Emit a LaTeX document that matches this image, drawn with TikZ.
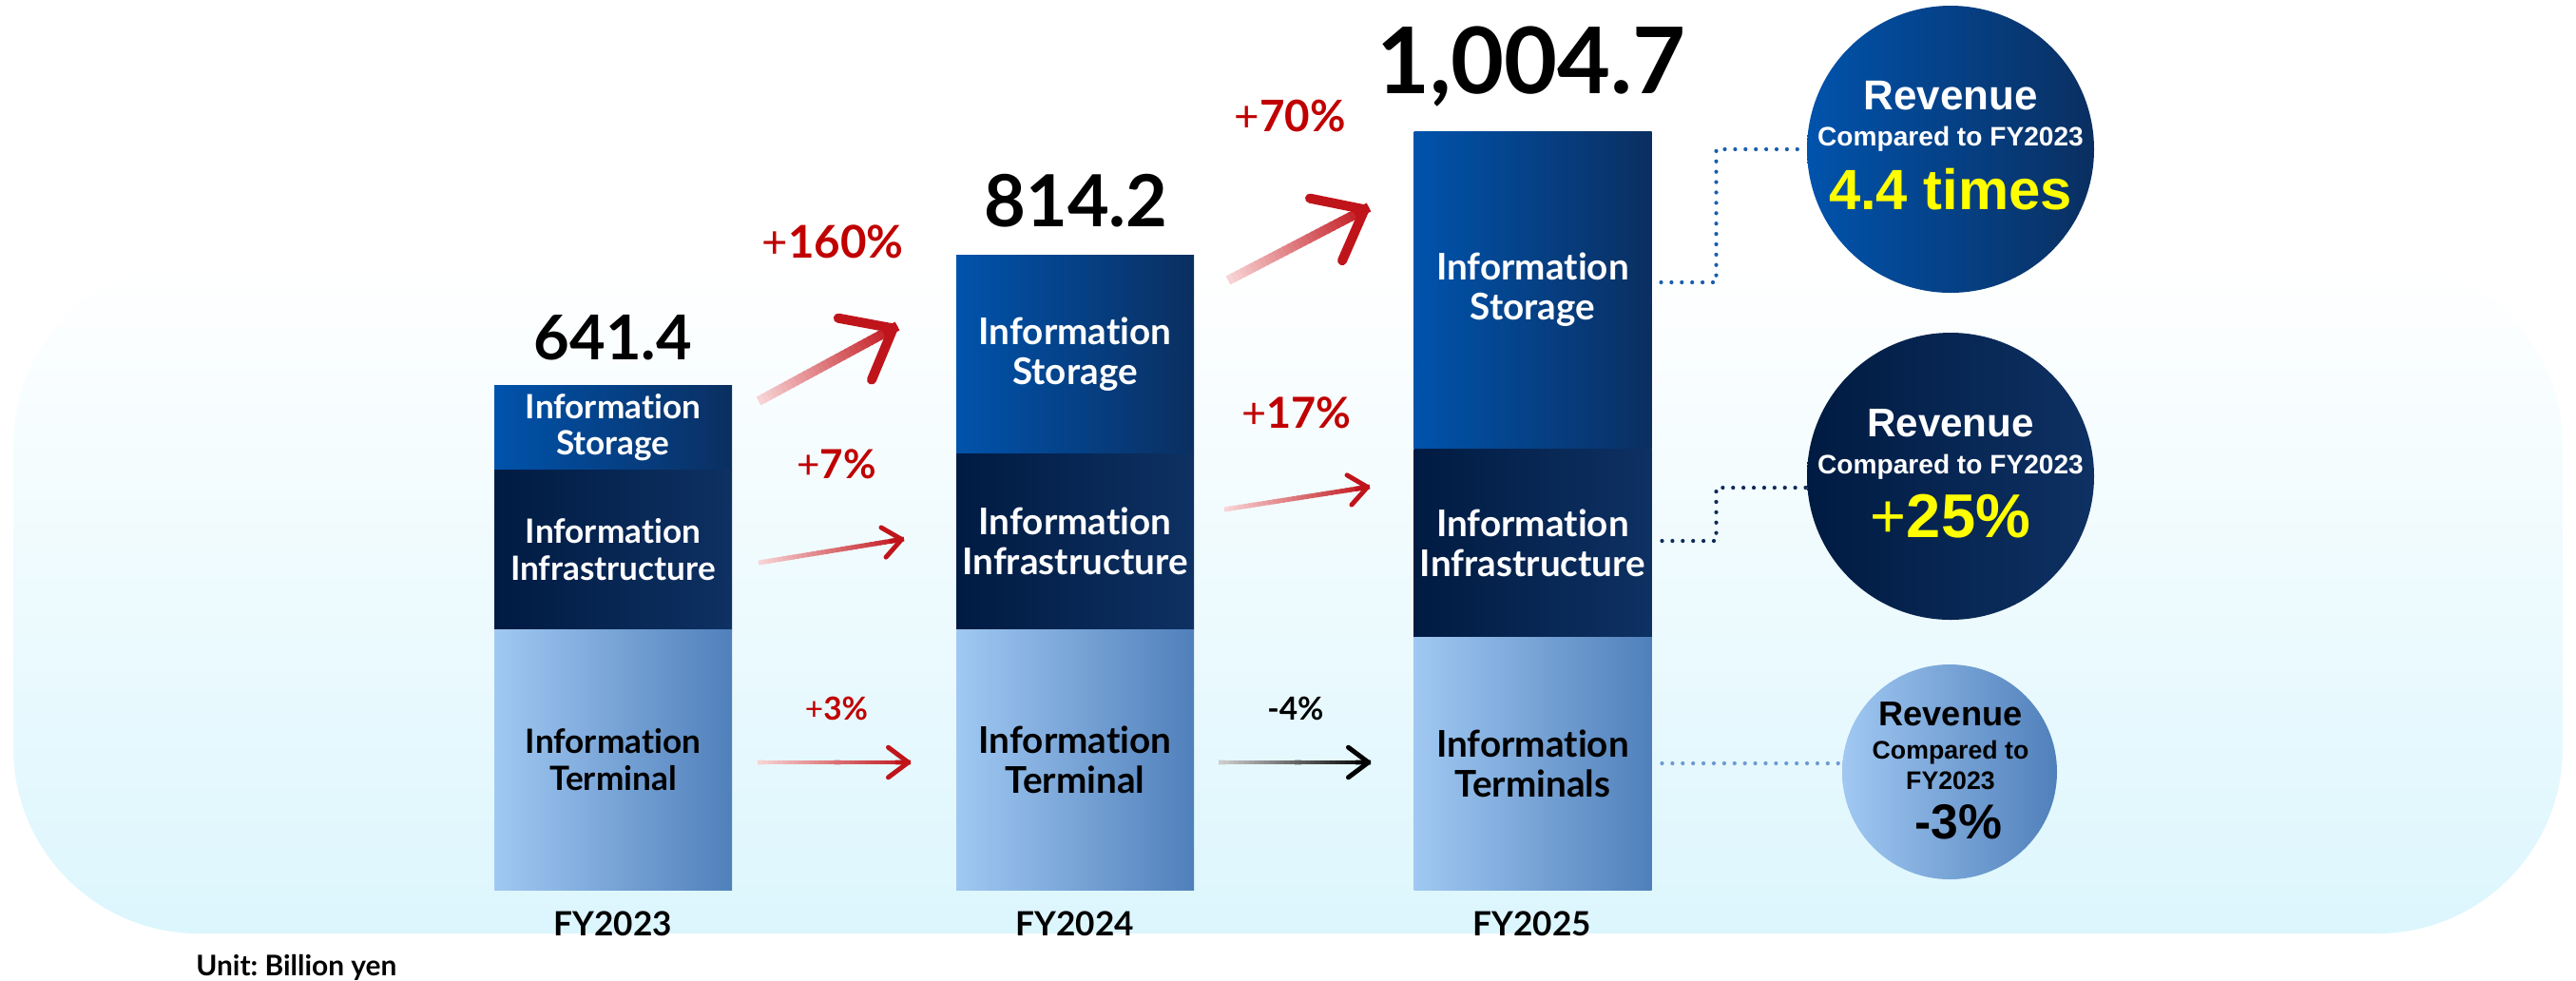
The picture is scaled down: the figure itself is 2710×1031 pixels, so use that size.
\documentclass[tikz,border=0pt]{standalone}
\usepackage{fontspec}
\setmainfont{Lato}[Ligatures=NoCommon]
\newfontfamily\circfont{Liberation Sans}
\usetikzlibrary{positioning,calc,arrows.meta,fadings}

% segment colours (left / middle / right of each gradient)
\definecolor{stgL}{HTML}{0053AC}
\definecolor{stgM}{HTML}{03489A}
\definecolor{stgR}{HTML}{0A2F61}
\definecolor{infL}{HTML}{001B42}
\definecolor{infM}{HTML}{012C5C}
\definecolor{infR}{HTML}{0E3163}
\definecolor{trmL}{HTML}{A0C8F2}
\definecolor{trmM}{HTML}{86AFE1}
\definecolor{trmR}{HTML}{5080BB}
% backdrop and accents
\definecolor{bgmid}{HTML}{ECF8FE}
\definecolor{bgcyan}{HTML}{DCF6FD}
\definecolor{floorcol}{HTML}{C4DFE6}
\definecolor{pctred}{HTML}{C00000}
\definecolor{headred}{HTML}{C0141B}
\definecolor{tailpink}{HTML}{FADADB}
\definecolor{tailgrey}{HTML}{D4D4D4}
\definecolor{dotA}{HTML}{1A5DAE}
\definecolor{dotB}{HTML}{0F2B57}
\definecolor{dotC}{HTML}{6C9BD2}
\definecolor{hiyellow}{HTML}{FFFF00}

\tikzfading[name=floorfade, left color=transparent!100, middle color=transparent!0, right color=transparent!100]

% arrow with a shaft that runs from a pale tail to a strong head
% #1 from, #2 to, #3 width, #4 tail colour, #5 head colour, #6 tip size
\newcommand{\gradarrow}[6]{%
  \foreach \k in {1,...,30}{
    \pgfmathsetmacro{\ta}{(\k-1)/30}
    \pgfmathsetmacro{\tb}{min(1,\k/30+0.01)}
    \pgfmathsetmacro{\mx}{100*\k/30}
    \draw[line width=#3, color=#5!\mx!#4] ($(#1)!\ta!(#2)$) -- ($(#1)!\tb!(#2)$);
  }
  \draw[line width=#3, color=#5, -{Straight Barb[round, #6]}] ($(#1)!0.9!(#2)$) -- (#2);
}

\begin{document}
\begin{tikzpicture}[x=0.1mm, y=-0.1mm,
    seg/.style={rectangle, inner sep=0pt, outer sep=0pt, minimum width=25mm, align=center},
    stgseg/.style={seg, left color=stgL, middle color=stgM, right color=stgR, text=white},
    infseg/.style={seg, left color=infL, middle color=infM, right color=infR, text=white},
    trmseg/.style={seg, left color=trmL, middle color=trmM, right color=trmR, text=black},
    segsmall/.style={font=\fontsize{10}{11}\selectfont\bfseries},
    seglarge/.style={font=\fontsize{11}{12}\selectfont\bfseries},
    total/.style={anchor=base},
    pct/.style={anchor=base, text=pctred},
    year/.style={anchor=base, font=\fontsize{10}{12}\selectfont\bfseries},
    bubble/.style={circle, inner sep=0pt, outer sep=0pt},
    rvtxt/.style={anchor=base},
    dotline/.style={line width=1.2pt, line cap=round, dash pattern=on 0pt off 3.1pt},
  ]

  \useasboundingbox (0,0) rectangle (2710,1031);

  % backdrop
  \shade[top color=white, middle color=bgmid, bottom color=bgcyan, rounded corners=19.5mm]
    (14,273) rectangle (2696,982);
  % floor shadow under the bars
  \shade[top color=bgcyan, bottom color=floorcol, path fading=floorfade]
    (270,895) rectangle (2150,937);

  % FY2023 bar
  \node[stgseg, segsmall, minimum height=8.9mm] (st1) at (645,449.5) {Information\\Storage};
  \node[infseg, segsmall, minimum height=16.8mm, below=0pt of st1] (in1) {Information\\Infrastructure};
  \node[trmseg, segsmall, minimum height=27.4mm, below=0pt of in1] (te1) {Information\\Terminal};

  % FY2024 bar
  \node[stgseg, seglarge, minimum height=20.9mm] (st2) at (1131,372.5) {Information\\Storage};
  \node[infseg, seglarge, minimum height=18.5mm, below=0pt of st2] (in2) {Information\\Infrastructure};
  \node[trmseg, seglarge, minimum height=27.4mm, below=0pt of in2] (te2) {Information\\Terminal};

  % FY2025 bar
  \node[stgseg, seglarge, minimum height=33.4mm] (st3) at (1612.5,305) {Information\\Storage};
  \node[infseg, seglarge, minimum height=19.8mm, below=0pt of st3] (in3) {Information\\Infrastructure};
  \node[trmseg, seglarge, minimum height=26.6mm, below=0pt of in3] (te3) {Information\\Terminals};

  % totals
  \node[total, font=\fontsize{18.5}{20}\selectfont\bfseries] (tot1) at (645,378) {641.4};
  \node[total, font=\fontsize{21.5}{24}\selectfont\bfseries] (tot2) at (1132,238) {814.2};
  \node[total, font=\fontsize{27.5}{30}\selectfont\bfseries] (tot3) at (1611,98) {1,004.7};

  % years and unit
  \node[year] (fy1) at (645,984) {FY2023};
  \node[year] (fy2) at (1131,984) {FY2024};
  \node[year] (fy3) at (1612,984) {FY2025};
  \node[anchor=base west, font=\fontsize{8.5}{10}\selectfont\bfseries] (unit) at (194,1026) {Unit:\ Billion yen};

  % growth arrows
  \coordinate (g1s) at (798,422);  \coordinate (g1e) at (944,343);
  \coordinate (g2s) at (798,592);  \coordinate (g2e) at (951,567);
  \coordinate (g3s) at (797,802);  \coordinate (g3e) at (958,802);
  \coordinate (g4s) at (1292,295); \coordinate (g4e) at (1440,218);
  \coordinate (g5s) at (1288,536); \coordinate (g5e) at (1441,512);
  \coordinate (g6s) at (1282,802); \coordinate (g6e) at (1442,802);

  \gradarrow{g1s}{g1e}{2.85pt}{tailpink}{headred}{length=13pt, width=21pt}
  \gradarrow{g2s}{g2e}{1.4pt}{tailpink}{headred}{length=5.5pt, width=9pt}
  \gradarrow{g3s}{g3e}{1.4pt}{tailpink}{headred}{length=6pt, width=9pt}
  \gradarrow{g4s}{g4e}{2.85pt}{tailpink}{headred}{length=13pt, width=21pt}
  \gradarrow{g5s}{g5e}{1.4pt}{tailpink}{headred}{length=5.5pt, width=9pt}
  \gradarrow{g6s}{g6e}{1.4pt}{tailgrey}{black}{length=6pt, width=9pt}

  % growth rates
  \node[pct, font=\fontsize{13.5}{15}\selectfont\bfseries] (p160) at (876,271) {{\mdseries+}160\%};
  \node[pct, font=\fontsize{12}{14}\selectfont\bfseries] (p7) at (880,503) {{\mdseries+}7\%};
  \node[pct, font=\fontsize{9.5}{11}\selectfont\bfseries] (p3) at (880,757) {{\mdseries+}3\%};
  \node[pct, font=\fontsize{13}{15}\selectfont\bfseries] (p70) at (1357,138) {{\mdseries+}70\%};
  \node[pct, font=\fontsize{12.8}{15}\selectfont\bfseries] (p17) at (1364,450) {{\mdseries+}17\%};
  \node[pct, text=black, font=\fontsize{9.5}{11}\selectfont\bfseries] (m4) at (1363,757) {-4\%};

  % revenue bubbles
  \node[bubble, minimum size=30.2mm, left color=stgL, middle color=stgM, right color=stgR] (rv1) at (2052,157) {};
  \node[bubble, minimum size=30.2mm, left color=infL, middle color=infM, right color=infR] (rv2) at (2052,501) {};
  \node[bubble, minimum size=22.6mm, left color=trmL, middle color=trmM, right color=trmR] (rv3) at (2051,812) {};

  \node[rvtxt, text=white, font=\circfont\bfseries\fontsize{12.5}{14}\selectfont] (rv1a) at (2052,115) {Revenue};
  \node[rvtxt, text=white, font=\circfont\bfseries\fontsize{8}{10}\selectfont] (rv1b) at (2052,153) {Compared to FY2023};
  \node[rvtxt, text=hiyellow, font=\circfont\bfseries\fontsize{17}{20}\selectfont] (rv1c) at (2052,220) {4.4 times};

  \node[rvtxt, text=white, font=\circfont\bfseries\fontsize{12}{14}\selectfont] (rv2a) at (2052,459) {Revenue};
  \node[rvtxt, text=white, font=\circfont\bfseries\fontsize{8}{10}\selectfont] (rv2b) at (2052,498) {Compared to FY2023};
  \node[rvtxt, text=hiyellow, font=\circfont\bfseries\fontsize{18.5}{20}\selectfont] (rv2c) at (2052,565) {{\mdseries+}25\%};

  \node[rvtxt, font=\circfont\bfseries\fontsize{10.3}{12}\selectfont] (rv3a) at (2052,763) {Revenue};
  \node[rvtxt, font=\circfont\bfseries\fontsize{7.6}{9}\selectfont] (rv3b) at (2052,798) {Compared to};
  \node[rvtxt, font=\circfont\bfseries\fontsize{7.6}{9}\selectfont] (rv3c) at (2052,830) {FY2023};
  \node[rvtxt, font=\circfont\bfseries\fontsize{14.7}{16}\selectfont] (rv3d) at (2060,882) {-3\%};

  % dotted leaders from the FY2025 segments
  \draw[dotline, dotA] ([shift={(10,-8)}]st3.east) -- ++(58,0) |- (rv1.west);
  \draw[dotline, dotB] ([shift={(11,-2)}]in3.east) -- ++(57,0) |- ([shift={(0,12)}]rv2.west);
  \draw[dotline, dotC] ([xshift=1.1mm]te3.east) -- (te3.east -| rv3.west);

\end{tikzpicture}
\end{document}
